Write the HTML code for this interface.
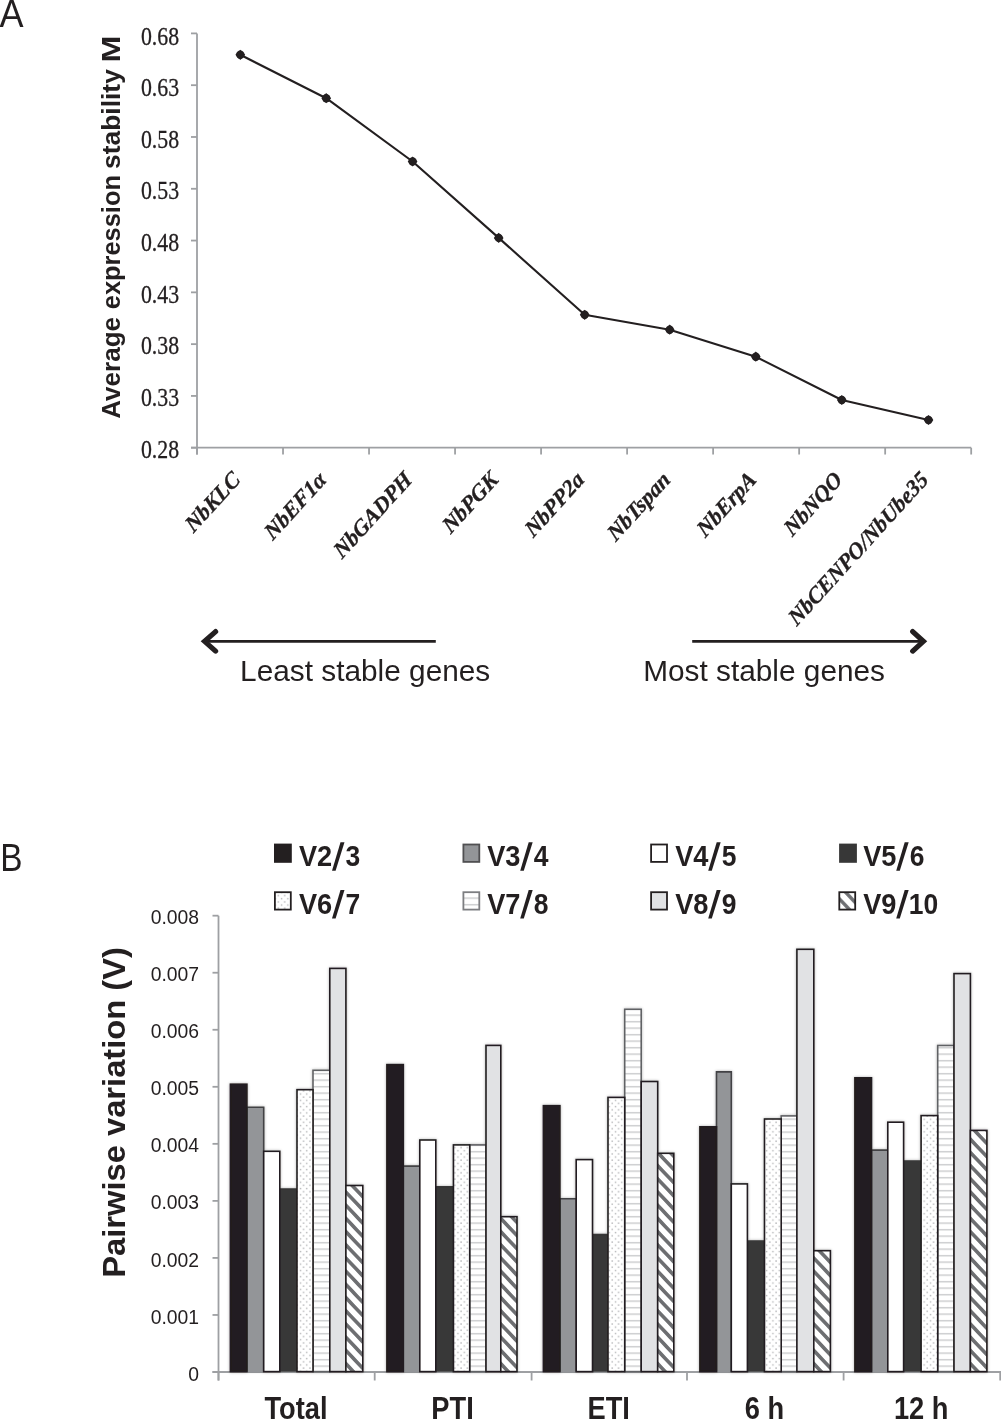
<!DOCTYPE html>
<html><head><meta charset="utf-8"><style>
html,body{margin:0;padding:0;background:#fff;}
body{width:1001px;height:1419px;overflow:hidden;font-family:"Liberation Sans",sans-serif;}
svg{display:block;will-change:transform;}
</style></head><body>
<svg width="1001" height="1419" viewBox="0 0 1001 1419">
<defs>
<pattern id="dots" patternUnits="userSpaceOnUse" width="6.3" height="6.3" x="0.2" y="0"><rect x="0.3" y="0.3" width="1.4" height="1.4" fill="#b3b4b6"/><rect x="3.45" y="3.45" width="1.4" height="1.4" fill="#b3b4b6"/></pattern>
<pattern id="hstripe" patternUnits="userSpaceOnUse" width="8" height="6.5" x="0" y="0.4"><rect x="0" y="0" width="8" height="1.5" fill="#cdced0"/></pattern>
<pattern id="hatchL" patternUnits="userSpaceOnUse" width="9.086" height="9.086" patternTransform="translate(838.40,897.90) rotate(46.5)"><rect x="0" y="0" width="9.086" height="1.70" fill="#6d6e71"/><rect x="0" y="7.386" width="9.086" height="1.70" fill="#6d6e71"/></pattern>
<pattern id="hatch0" patternUnits="userSpaceOnUse" width="9.086" height="9.086" patternTransform="translate(345.90,1363.70) rotate(46.5)"><rect x="0" y="0" width="9.086" height="1.80" fill="#6d6e71"/><rect x="0" y="7.286" width="9.086" height="1.80" fill="#6d6e71"/></pattern>
<pattern id="hatch1" patternUnits="userSpaceOnUse" width="9.086" height="9.086" patternTransform="translate(500.80,1363.70) rotate(46.5)"><rect x="0" y="0" width="9.086" height="1.80" fill="#6d6e71"/><rect x="0" y="7.286" width="9.086" height="1.80" fill="#6d6e71"/></pattern>
<pattern id="hatch2" patternUnits="userSpaceOnUse" width="9.086" height="9.086" patternTransform="translate(657.70,1363.70) rotate(46.5)"><rect x="0" y="0" width="9.086" height="1.80" fill="#6d6e71"/><rect x="0" y="7.286" width="9.086" height="1.80" fill="#6d6e71"/></pattern>
<pattern id="hatch3" patternUnits="userSpaceOnUse" width="9.086" height="9.086" patternTransform="translate(813.80,1363.70) rotate(46.5)"><rect x="0" y="0" width="9.086" height="1.80" fill="#6d6e71"/><rect x="0" y="7.286" width="9.086" height="1.80" fill="#6d6e71"/></pattern>
<pattern id="hatch4" patternUnits="userSpaceOnUse" width="9.086" height="9.086" patternTransform="translate(970.40,1363.70) rotate(46.5)"><rect x="0" y="0" width="9.086" height="1.80" fill="#6d6e71"/><rect x="0" y="7.286" width="9.086" height="1.80" fill="#6d6e71"/></pattern>
<pattern id="hatch" patternUnits="userSpaceOnUse" width="9" height="9" patternTransform="rotate(45)"><rect x="0" y="0" width="9" height="3.6" fill="#6d6e71"/></pattern>
<filter id="halo" x="-5%" y="-5%" width="110%" height="110%"><feGaussianBlur in="SourceAlpha" stdDeviation="1.6"/><feComponentTransfer><feFuncA type="linear" slope="0.3"/></feComponentTransfer><feMerge><feMergeNode/><feMergeNode in="SourceGraphic"/></feMerge></filter>
</defs>
<rect width="1001" height="1419" fill="#fff"/>
<text transform="translate(-0.4,27.4) scale(0.93,1)" font-family="Liberation Sans" font-size="38.8" fill="#231f20">A</text>
<line x1="191" y1="33.40" x2="197" y2="33.40" stroke="#9ea0a3" stroke-width="1.8"/>
<text transform="translate(179.1,44.50) scale(0.87,1)" text-anchor="end" font-family="Liberation Serif" font-size="25.1" fill="#231f20" stroke="#231f20" stroke-width="0.3">0.68</text>
<line x1="191" y1="85.19" x2="197" y2="85.19" stroke="#9ea0a3" stroke-width="1.8"/>
<text transform="translate(179.1,96.14) scale(0.87,1)" text-anchor="end" font-family="Liberation Serif" font-size="25.1" fill="#231f20" stroke="#231f20" stroke-width="0.3">0.63</text>
<line x1="191" y1="136.98" x2="197" y2="136.98" stroke="#9ea0a3" stroke-width="1.8"/>
<text transform="translate(179.1,147.78) scale(0.87,1)" text-anchor="end" font-family="Liberation Serif" font-size="25.1" fill="#231f20" stroke="#231f20" stroke-width="0.3">0.58</text>
<line x1="191" y1="188.77" x2="197" y2="188.77" stroke="#9ea0a3" stroke-width="1.8"/>
<text transform="translate(179.1,199.42) scale(0.87,1)" text-anchor="end" font-family="Liberation Serif" font-size="25.1" fill="#231f20" stroke="#231f20" stroke-width="0.3">0.53</text>
<line x1="191" y1="240.56" x2="197" y2="240.56" stroke="#9ea0a3" stroke-width="1.8"/>
<text transform="translate(179.1,251.06) scale(0.87,1)" text-anchor="end" font-family="Liberation Serif" font-size="25.1" fill="#231f20" stroke="#231f20" stroke-width="0.3">0.48</text>
<line x1="191" y1="292.35" x2="197" y2="292.35" stroke="#9ea0a3" stroke-width="1.8"/>
<text transform="translate(179.1,302.70) scale(0.87,1)" text-anchor="end" font-family="Liberation Serif" font-size="25.1" fill="#231f20" stroke="#231f20" stroke-width="0.3">0.43</text>
<line x1="191" y1="344.14" x2="197" y2="344.14" stroke="#9ea0a3" stroke-width="1.8"/>
<text transform="translate(179.1,354.34) scale(0.87,1)" text-anchor="end" font-family="Liberation Serif" font-size="25.1" fill="#231f20" stroke="#231f20" stroke-width="0.3">0.38</text>
<line x1="191" y1="395.93" x2="197" y2="395.93" stroke="#9ea0a3" stroke-width="1.8"/>
<text transform="translate(179.1,405.98) scale(0.87,1)" text-anchor="end" font-family="Liberation Serif" font-size="25.1" fill="#231f20" stroke="#231f20" stroke-width="0.3">0.33</text>
<line x1="191" y1="447.72" x2="197" y2="447.72" stroke="#9ea0a3" stroke-width="1.8"/>
<text transform="translate(179.1,457.62) scale(0.87,1)" text-anchor="end" font-family="Liberation Serif" font-size="25.1" fill="#231f20" stroke="#231f20" stroke-width="0.3">0.28</text>
<line x1="197" y1="33.40" x2="197" y2="454.52" stroke="#9ea0a3" stroke-width="1.8"/>
<line x1="191" y1="447.72" x2="971.2" y2="447.72" stroke="#9ea0a3" stroke-width="1.8"/>
<line x1="197.00" y1="447.72" x2="197.00" y2="454.52" stroke="#9ea0a3" stroke-width="1.8"/>
<line x1="283.02" y1="447.72" x2="283.02" y2="454.52" stroke="#9ea0a3" stroke-width="1.8"/>
<line x1="369.04" y1="447.72" x2="369.04" y2="454.52" stroke="#9ea0a3" stroke-width="1.8"/>
<line x1="455.06" y1="447.72" x2="455.06" y2="454.52" stroke="#9ea0a3" stroke-width="1.8"/>
<line x1="541.08" y1="447.72" x2="541.08" y2="454.52" stroke="#9ea0a3" stroke-width="1.8"/>
<line x1="627.10" y1="447.72" x2="627.10" y2="454.52" stroke="#9ea0a3" stroke-width="1.8"/>
<line x1="713.12" y1="447.72" x2="713.12" y2="454.52" stroke="#9ea0a3" stroke-width="1.8"/>
<line x1="799.14" y1="447.72" x2="799.14" y2="454.52" stroke="#9ea0a3" stroke-width="1.8"/>
<line x1="885.16" y1="447.72" x2="885.16" y2="454.52" stroke="#9ea0a3" stroke-width="1.8"/>
<line x1="971.18" y1="447.72" x2="971.18" y2="454.52" stroke="#9ea0a3" stroke-width="1.8"/>
<text transform="translate(120.4,418.78) rotate(-90) scale(0.998,1)" font-family="Liberation Sans" font-weight="bold" font-size="26.1" fill="#231f20">Average</text>
<text transform="translate(120.4,309.22) rotate(-90) scale(0.974,1)" font-family="Liberation Sans" font-weight="bold" font-size="26.1" fill="#231f20">expression</text>
<text transform="translate(120.4,169.06) rotate(-90) scale(1.013,1)" font-family="Liberation Sans" font-weight="bold" font-size="26.1" fill="#231f20">stability</text>
<text transform="translate(120.4,62.56) rotate(-90) scale(1.237,1)" font-family="Liberation Sans" font-weight="bold" font-size="26.1" fill="#231f20">M</text>
<polyline points="240.3,54.8 326.2,98.2 412.6,161.5 498.7,237.9 584.7,314.8 669.7,329.7 755.8,356.7 841.8,400 928.5,420" fill="none" stroke="#231f20" stroke-width="2.1" stroke-linejoin="round"/>
<circle cx="240.3" cy="54.8" r="4.2" fill="#231f20"/>
<path d="M240.3,49.699999999999996 L245.20000000000002,54.8 L240.3,59.9 L235.4,54.8 Z" fill="#231f20"/>
<circle cx="326.2" cy="98.2" r="4.2" fill="#231f20"/>
<path d="M326.2,93.10000000000001 L331.09999999999997,98.2 L326.2,103.3 L321.3,98.2 Z" fill="#231f20"/>
<circle cx="412.6" cy="161.5" r="4.2" fill="#231f20"/>
<path d="M412.6,156.4 L417.5,161.5 L412.6,166.6 L407.70000000000005,161.5 Z" fill="#231f20"/>
<circle cx="498.7" cy="237.9" r="4.2" fill="#231f20"/>
<path d="M498.7,232.8 L503.59999999999997,237.9 L498.7,243.0 L493.8,237.9 Z" fill="#231f20"/>
<circle cx="584.7" cy="314.8" r="4.2" fill="#231f20"/>
<path d="M584.7,309.7 L589.6,314.8 L584.7,319.90000000000003 L579.8000000000001,314.8 Z" fill="#231f20"/>
<circle cx="669.7" cy="329.7" r="4.2" fill="#231f20"/>
<path d="M669.7,324.59999999999997 L674.6,329.7 L669.7,334.8 L664.8000000000001,329.7 Z" fill="#231f20"/>
<circle cx="755.8" cy="356.7" r="4.2" fill="#231f20"/>
<path d="M755.8,351.59999999999997 L760.6999999999999,356.7 L755.8,361.8 L750.9,356.7 Z" fill="#231f20"/>
<circle cx="841.8" cy="400" r="4.2" fill="#231f20"/>
<path d="M841.8,394.9 L846.6999999999999,400 L841.8,405.1 L836.9,400 Z" fill="#231f20"/>
<circle cx="928.5" cy="420" r="4.2" fill="#231f20"/>
<path d="M928.5,414.9 L933.4,420 L928.5,425.1 L923.6,420 Z" fill="#231f20"/>
<text id="lab0" transform="translate(241.30,481) scale(0.91,1) rotate(-45)" text-anchor="end" font-family="Liberation Serif" font-weight="bold" font-style="italic" font-size="23.5" fill="#231f20" stroke="#231f20" stroke-width="0.35">NbKLC</text>
<text id="lab1" transform="translate(327.32,481) scale(0.91,1) rotate(-45)" text-anchor="end" font-family="Liberation Serif" font-weight="bold" font-style="italic" font-size="23.5" fill="#231f20" stroke="#231f20" stroke-width="0.35">NbEF1α</text>
<text id="lab2" transform="translate(413.34,481) scale(0.91,1) rotate(-45)" text-anchor="end" font-family="Liberation Serif" font-weight="bold" font-style="italic" font-size="23.5" fill="#231f20" stroke="#231f20" stroke-width="0.35">NbGADPH</text>
<text id="lab3" transform="translate(499.36,481) scale(0.91,1) rotate(-45)" text-anchor="end" font-family="Liberation Serif" font-weight="bold" font-style="italic" font-size="23.5" fill="#231f20" stroke="#231f20" stroke-width="0.35">NbPGK</text>
<text id="lab4" transform="translate(585.38,481) scale(0.91,1) rotate(-45)" text-anchor="end" font-family="Liberation Serif" font-weight="bold" font-style="italic" font-size="23.5" fill="#231f20" stroke="#231f20" stroke-width="0.35">NbPP2a</text>
<text id="lab5" transform="translate(671.40,481) scale(0.91,1) rotate(-45)" text-anchor="end" font-family="Liberation Serif" font-weight="bold" font-style="italic" font-size="23.5" fill="#231f20" stroke="#231f20" stroke-width="0.35">NbTspan</text>
<text id="lab6" transform="translate(757.42,481) scale(0.91,1) rotate(-45)" text-anchor="end" font-family="Liberation Serif" font-weight="bold" font-style="italic" font-size="23.5" fill="#231f20" stroke="#231f20" stroke-width="0.35">NbErpA</text>
<text id="lab7" transform="translate(843.44,481) scale(0.91,1) rotate(-45)" text-anchor="end" font-family="Liberation Serif" font-weight="bold" font-style="italic" font-size="23.5" fill="#231f20" stroke="#231f20" stroke-width="0.35">NbNQO</text>
<text id="lab8" transform="translate(929.46,481) scale(0.91,1) rotate(-45)" text-anchor="end" font-family="Liberation Serif" font-weight="bold" font-style="italic" font-size="23.5" fill="#231f20" stroke="#231f20" stroke-width="0.35">NbCENPO/NbUbe35</text>
<line x1="203" y1="641.45" x2="435.8" y2="641.45" stroke="#231f20" stroke-width="2.7"/>
<path d="M215.6,631.6 L204.6,641.35 L215.6,651.1" fill="none" stroke="#231f20" stroke-width="5.2" stroke-linecap="round" stroke-linejoin="miter" stroke-miterlimit="10"/>
<line x1="692.2" y1="641.45" x2="925" y2="641.45" stroke="#231f20" stroke-width="2.7"/>
<path d="M912.7,631.6 L923.4,641.35 L912.7,651.1" fill="none" stroke="#231f20" stroke-width="5.2" stroke-linecap="round" stroke-linejoin="miter" stroke-miterlimit="10"/>
<text x="240.1" y="681.1" font-family="Liberation Sans" font-size="29.8" fill="#231f20">Least stable genes</text>
<text x="643.2" y="681.1" font-family="Liberation Sans" font-size="29.8" fill="#231f20">Most stable genes</text>
<text transform="translate(0.3,870.8) scale(0.86,1)" font-family="Liberation Sans" font-size="38.8" fill="#231f20">B</text>
<rect x="274" y="843.6" width="17.8" height="19.2" fill="#231f20"/>
<text transform="translate(299.2,866.0) scale(0.895,1)" x="-0.3" font-family="Liberation Sans" font-weight="bold" font-size="30.4" fill="#231f20">V2</text>
<polygon points="340.5,842.2 344.5,842.2 335.6,870.7 332.0,870.7" fill="#231f20"/>
<text transform="translate(346.0,866.0) scale(0.87,1)" x="-0.6" font-family="Liberation Sans" font-weight="bold" font-size="30.4" fill="#231f20">3</text>
<rect x="463.4" y="844.5" width="15.9" height="17.4" fill="#939598" stroke="#505052" stroke-width="1.8"/>
<text transform="translate(487.4,866.0) scale(0.895,1)" x="-0.3" font-family="Liberation Sans" font-weight="bold" font-size="30.4" fill="#231f20">V3</text>
<polygon points="528.7,842.2 532.7,842.2 523.8,870.7 520.2,870.7" fill="#231f20"/>
<text transform="translate(534.2,866.0) scale(0.87,1)" x="-0.6" font-family="Liberation Sans" font-weight="bold" font-size="30.4" fill="#231f20">4</text>
<rect x="651.1" y="844.5" width="15.9" height="17.4" fill="#fff" stroke="#231f20" stroke-width="1.8"/>
<text transform="translate(675.4,866.0) scale(0.895,1)" x="-0.3" font-family="Liberation Sans" font-weight="bold" font-size="30.4" fill="#231f20">V4</text>
<polygon points="716.7,842.2 720.7,842.2 711.8,870.7 708.2,870.7" fill="#231f20"/>
<text transform="translate(722.2,866.0) scale(0.87,1)" x="-0.6" font-family="Liberation Sans" font-weight="bold" font-size="30.4" fill="#231f20">5</text>
<rect x="839.1" y="843.6" width="17.8" height="19.2" fill="#373737"/>
<text transform="translate(863.4,866.0) scale(0.895,1)" x="-0.3" font-family="Liberation Sans" font-weight="bold" font-size="30.4" fill="#231f20">V5</text>
<polygon points="904.7,842.2 908.7,842.2 899.8,870.7 896.2,870.7" fill="#231f20"/>
<text transform="translate(910.2,866.0) scale(0.87,1)" x="-0.6" font-family="Liberation Sans" font-weight="bold" font-size="30.4" fill="#231f20">6</text>
<rect x="274.9" y="892.1999999999999" width="15.9" height="17.4" fill="#fff"/>
<rect x="274.9" y="892.2" width="15.9" height="17.4" fill="url(#dots)" stroke="#231f20" stroke-width="1.8"/>
<text transform="translate(299.2,913.7) scale(0.895,1)" x="-0.3" font-family="Liberation Sans" font-weight="bold" font-size="30.4" fill="#231f20">V6</text>
<polygon points="340.5,889.9 344.5,889.9 335.6,918.4 332.0,918.4" fill="#231f20"/>
<text transform="translate(346.0,913.7) scale(0.87,1)" x="-0.6" font-family="Liberation Sans" font-weight="bold" font-size="30.4" fill="#231f20">7</text>
<rect x="463.4" y="892.1999999999999" width="15.9" height="17.4" fill="#fff"/>
<rect x="463.4" y="892.2" width="15.9" height="17.4" fill="url(#hstripe)" stroke="#7d7e81" stroke-width="1.8"/>
<text transform="translate(487.4,913.7) scale(0.895,1)" x="-0.3" font-family="Liberation Sans" font-weight="bold" font-size="30.4" fill="#231f20">V7</text>
<polygon points="528.7,889.9 532.7,889.9 523.8,918.4 520.2,918.4" fill="#231f20"/>
<text transform="translate(534.2,913.7) scale(0.87,1)" x="-0.6" font-family="Liberation Sans" font-weight="bold" font-size="30.4" fill="#231f20">8</text>
<rect x="651.1" y="892.2" width="15.9" height="17.4" fill="#e1e2e4" stroke="#231f20" stroke-width="1.8"/>
<text transform="translate(675.4,913.7) scale(0.895,1)" x="-0.3" font-family="Liberation Sans" font-weight="bold" font-size="30.4" fill="#231f20">V8</text>
<polygon points="716.7,889.9 720.7,889.9 711.8,918.4 708.2,918.4" fill="#231f20"/>
<text transform="translate(722.2,913.7) scale(0.87,1)" x="-0.6" font-family="Liberation Sans" font-weight="bold" font-size="30.4" fill="#231f20">9</text>
<rect x="839.3" y="892.1999999999999" width="15.9" height="17.4" fill="#fff"/>
<rect x="839.3" y="892.2" width="15.9" height="17.4" fill="url(#hatchL)" stroke="#231f20" stroke-width="1.8"/>
<text transform="translate(863.4,913.7) scale(0.895,1)" x="-0.3" font-family="Liberation Sans" font-weight="bold" font-size="30.4" fill="#231f20">V9</text>
<polygon points="904.7,889.9 908.7,889.9 899.8,918.4 896.2,918.4" fill="#231f20"/>
<text transform="translate(910.2,913.7) scale(0.87,1)" x="-1.6" font-family="Liberation Sans" font-weight="bold" font-size="30.4" fill="#231f20">10</text>
<line x1="212.5" y1="1372.00" x2="218.5" y2="1372.00" stroke="#9ea0a3" stroke-width="1.8"/>
<text transform="translate(199.1,1380.60) scale(0.93,1)" text-anchor="end" font-family="Liberation Sans" font-size="20.8" fill="#231f20">0</text>
<line x1="212.5" y1="1314.96" x2="218.5" y2="1314.96" stroke="#9ea0a3" stroke-width="1.8"/>
<text transform="translate(199.1,1323.56) scale(0.93,1)" text-anchor="end" font-family="Liberation Sans" font-size="20.8" fill="#231f20">0.001</text>
<line x1="212.5" y1="1257.92" x2="218.5" y2="1257.92" stroke="#9ea0a3" stroke-width="1.8"/>
<text transform="translate(199.1,1266.52) scale(0.93,1)" text-anchor="end" font-family="Liberation Sans" font-size="20.8" fill="#231f20">0.002</text>
<line x1="212.5" y1="1200.88" x2="218.5" y2="1200.88" stroke="#9ea0a3" stroke-width="1.8"/>
<text transform="translate(199.1,1209.48) scale(0.93,1)" text-anchor="end" font-family="Liberation Sans" font-size="20.8" fill="#231f20">0.003</text>
<line x1="212.5" y1="1143.84" x2="218.5" y2="1143.84" stroke="#9ea0a3" stroke-width="1.8"/>
<text transform="translate(199.1,1152.44) scale(0.93,1)" text-anchor="end" font-family="Liberation Sans" font-size="20.8" fill="#231f20">0.004</text>
<line x1="212.5" y1="1086.80" x2="218.5" y2="1086.80" stroke="#9ea0a3" stroke-width="1.8"/>
<text transform="translate(199.1,1095.40) scale(0.93,1)" text-anchor="end" font-family="Liberation Sans" font-size="20.8" fill="#231f20">0.005</text>
<line x1="212.5" y1="1029.76" x2="218.5" y2="1029.76" stroke="#9ea0a3" stroke-width="1.8"/>
<text transform="translate(199.1,1038.36) scale(0.93,1)" text-anchor="end" font-family="Liberation Sans" font-size="20.8" fill="#231f20">0.006</text>
<line x1="212.5" y1="972.72" x2="218.5" y2="972.72" stroke="#9ea0a3" stroke-width="1.8"/>
<text transform="translate(199.1,981.32) scale(0.93,1)" text-anchor="end" font-family="Liberation Sans" font-size="20.8" fill="#231f20">0.007</text>
<line x1="212.5" y1="915.68" x2="218.5" y2="915.68" stroke="#9ea0a3" stroke-width="1.8"/>
<text transform="translate(199.1,924.28) scale(0.93,1)" text-anchor="end" font-family="Liberation Sans" font-size="20.8" fill="#231f20">0.008</text>
<line x1="218.5" y1="915.68" x2="218.5" y2="1380.50" stroke="#9ea0a3" stroke-width="1.8"/>
<line x1="212.5" y1="1372.0" x2="1001" y2="1372.0" stroke="#9ea0a3" stroke-width="1.8"/>
<line x1="218.5" y1="1372.0" x2="218.5" y2="1380.5" stroke="#9ea0a3" stroke-width="1.8"/>
<line x1="374.7" y1="1372.0" x2="374.7" y2="1380.5" stroke="#9ea0a3" stroke-width="1.8"/>
<line x1="531.6" y1="1372.0" x2="531.6" y2="1380.5" stroke="#9ea0a3" stroke-width="1.8"/>
<line x1="687.0" y1="1372.0" x2="687.0" y2="1380.5" stroke="#9ea0a3" stroke-width="1.8"/>
<line x1="843.6" y1="1372.0" x2="843.6" y2="1380.5" stroke="#9ea0a3" stroke-width="1.8"/>
<line x1="1000.2" y1="1372.0" x2="1000.2" y2="1380.5" stroke="#9ea0a3" stroke-width="1.8"/>
<text id="ytb" transform="translate(124.6,1277.7) rotate(-90) scale(1,0.956)" font-family="Liberation Sans" font-weight="bold" font-size="32.7" fill="#231f20">Pairwise variation (V)</text>
<g filter="url(#halo)">
<rect x="279.80" y="1189.00" width="17.20" height="182.60" fill="#373737"/>
<path d="M279.80,1371.60 V1189.00 H297.00 V1371.60" fill="none" stroke="#373737" stroke-width="1.6"/>
<rect x="246.90" y="1107.30" width="16.80" height="264.30" fill="#939598"/>
<path d="M246.90,1371.60 V1107.30 H263.70 V1371.60" fill="none" stroke="#434345" stroke-width="1.6"/>
<rect x="313.00" y="1070.30" width="16.80" height="301.30" fill="#fff"/>
<rect x="313.00" y="1070.30" width="16.80" height="301.30" fill="url(#hstripe)" stroke="#616265" stroke-width="1.6"/>
<rect x="263.70" y="1151.30" width="16.10" height="220.30" fill="#fff" stroke="#231f20" stroke-width="1.6"/>
<rect x="297.00" y="1089.70" width="16.00" height="281.90" fill="#fff"/>
<rect x="297.00" y="1089.70" width="16.00" height="281.90" fill="url(#dots)" stroke="#231f20" stroke-width="1.6"/>
<rect x="329.80" y="968.40" width="16.10" height="403.20" fill="#e1e2e4" stroke="#231f20" stroke-width="1.6"/>
<rect x="345.90" y="1185.50" width="16.90" height="186.10" fill="#fff"/>
<rect x="345.90" y="1185.50" width="16.90" height="186.10" fill="url(#hatch0)" stroke="#231f20" stroke-width="1.6"/>
<rect x="230.40" y="1084.20" width="16.50" height="287.40" fill="#231f20" stroke="#231f20" stroke-width="1.6"/>
<rect x="435.80" y="1186.70" width="17.65" height="184.90" fill="#373737"/>
<path d="M435.80,1371.60 V1186.70 H453.45 V1371.60" fill="none" stroke="#373737" stroke-width="1.6"/>
<rect x="403.30" y="1166.10" width="16.50" height="205.50" fill="#939598"/>
<path d="M403.30,1371.60 V1166.10 H419.80 V1371.60" fill="none" stroke="#434345" stroke-width="1.6"/>
<rect x="469.70" y="1144.90" width="16.30" height="226.70" fill="#fff"/>
<rect x="469.70" y="1144.90" width="16.30" height="226.70" fill="url(#hstripe)" stroke="#616265" stroke-width="1.6"/>
<rect x="419.80" y="1140.00" width="16.00" height="231.60" fill="#fff" stroke="#231f20" stroke-width="1.6"/>
<rect x="453.45" y="1144.90" width="16.25" height="226.70" fill="#fff"/>
<rect x="453.45" y="1144.90" width="16.25" height="226.70" fill="url(#dots)" stroke="#231f20" stroke-width="1.6"/>
<rect x="486.00" y="1045.40" width="14.80" height="326.20" fill="#e1e2e4" stroke="#231f20" stroke-width="1.6"/>
<rect x="500.80" y="1216.70" width="16.20" height="154.90" fill="#fff"/>
<rect x="500.80" y="1216.70" width="16.20" height="154.90" fill="url(#hatch1)" stroke="#231f20" stroke-width="1.6"/>
<rect x="386.90" y="1064.60" width="16.40" height="307.00" fill="#231f20" stroke="#231f20" stroke-width="1.6"/>
<rect x="592.50" y="1234.50" width="15.50" height="137.10" fill="#373737"/>
<path d="M592.50,1371.60 V1234.50 H608.00 V1371.60" fill="none" stroke="#373737" stroke-width="1.6"/>
<rect x="559.90" y="1198.70" width="16.30" height="172.90" fill="#939598"/>
<path d="M559.90,1371.60 V1198.70 H576.20 V1371.60" fill="none" stroke="#434345" stroke-width="1.6"/>
<rect x="624.70" y="1009.30" width="16.50" height="362.30" fill="#fff"/>
<rect x="624.70" y="1009.30" width="16.50" height="362.30" fill="url(#hstripe)" stroke="#616265" stroke-width="1.6"/>
<rect x="576.20" y="1159.60" width="16.30" height="212.00" fill="#fff" stroke="#231f20" stroke-width="1.6"/>
<rect x="608.00" y="1097.40" width="16.70" height="274.20" fill="#fff"/>
<rect x="608.00" y="1097.40" width="16.70" height="274.20" fill="url(#dots)" stroke="#231f20" stroke-width="1.6"/>
<rect x="641.20" y="1081.50" width="16.50" height="290.10" fill="#e1e2e4" stroke="#231f20" stroke-width="1.6"/>
<rect x="657.70" y="1153.30" width="16.10" height="218.30" fill="#fff"/>
<rect x="657.70" y="1153.30" width="16.10" height="218.30" fill="url(#hatch2)" stroke="#231f20" stroke-width="1.6"/>
<rect x="543.40" y="1105.70" width="16.50" height="265.90" fill="#231f20" stroke="#231f20" stroke-width="1.6"/>
<rect x="747.40" y="1241.10" width="17.10" height="130.50" fill="#373737"/>
<path d="M747.40,1371.60 V1241.10 H764.50 V1371.60" fill="none" stroke="#373737" stroke-width="1.6"/>
<rect x="716.50" y="1071.90" width="14.80" height="299.70" fill="#939598"/>
<path d="M716.50,1371.60 V1071.90 H731.30 V1371.60" fill="none" stroke="#434345" stroke-width="1.6"/>
<rect x="781.20" y="1115.90" width="15.70" height="255.70" fill="#fff"/>
<rect x="781.20" y="1115.90" width="15.70" height="255.70" fill="url(#hstripe)" stroke="#616265" stroke-width="1.6"/>
<rect x="731.30" y="1183.90" width="16.10" height="187.70" fill="#fff" stroke="#231f20" stroke-width="1.6"/>
<rect x="764.50" y="1119.00" width="16.70" height="252.60" fill="#fff"/>
<rect x="764.50" y="1119.00" width="16.70" height="252.60" fill="url(#dots)" stroke="#231f20" stroke-width="1.6"/>
<rect x="796.90" y="949.30" width="16.90" height="422.30" fill="#e1e2e4" stroke="#231f20" stroke-width="1.6"/>
<rect x="813.80" y="1250.70" width="16.60" height="120.90" fill="#fff"/>
<rect x="813.80" y="1250.70" width="16.60" height="120.90" fill="url(#hatch3)" stroke="#231f20" stroke-width="1.6"/>
<rect x="699.90" y="1126.80" width="16.60" height="244.80" fill="#231f20" stroke="#231f20" stroke-width="1.6"/>
<rect x="903.60" y="1161.10" width="17.50" height="210.50" fill="#373737"/>
<path d="M903.60,1371.60 V1161.10 H921.10 V1371.60" fill="none" stroke="#373737" stroke-width="1.6"/>
<rect x="871.50" y="1150.10" width="16.30" height="221.50" fill="#939598"/>
<path d="M871.50,1371.60 V1150.10 H887.80 V1371.60" fill="none" stroke="#434345" stroke-width="1.6"/>
<rect x="937.70" y="1045.50" width="16.30" height="326.10" fill="#fff"/>
<rect x="937.70" y="1045.50" width="16.30" height="326.10" fill="url(#hstripe)" stroke="#616265" stroke-width="1.6"/>
<rect x="887.80" y="1122.20" width="15.80" height="249.40" fill="#fff" stroke="#231f20" stroke-width="1.6"/>
<rect x="921.10" y="1115.60" width="16.60" height="256.00" fill="#fff"/>
<rect x="921.10" y="1115.60" width="16.60" height="256.00" fill="url(#dots)" stroke="#231f20" stroke-width="1.6"/>
<rect x="954.00" y="973.60" width="16.40" height="398.00" fill="#e1e2e4" stroke="#231f20" stroke-width="1.6"/>
<rect x="970.40" y="1130.40" width="16.50" height="241.20" fill="#fff"/>
<rect x="970.40" y="1130.40" width="16.50" height="241.20" fill="url(#hatch4)" stroke="#231f20" stroke-width="1.6"/>
<rect x="854.90" y="1077.80" width="16.60" height="293.80" fill="#231f20" stroke="#231f20" stroke-width="1.6"/>
</g>
<text transform="translate(296.0,1418.8) scale(0.874,1)" text-anchor="middle" font-family="Liberation Sans" font-weight="bold" font-size="31.2" fill="#231f20">Total</text>
<text transform="translate(452.5,1418.8) scale(0.874,1)" text-anchor="middle" font-family="Liberation Sans" font-weight="bold" font-size="31.2" fill="#231f20">PTI</text>
<text transform="translate(608.7,1418.8) scale(0.874,1)" text-anchor="middle" font-family="Liberation Sans" font-weight="bold" font-size="31.2" fill="#231f20">ETI</text>
<text transform="translate(764.5,1418.8) scale(0.874,1)" text-anchor="middle" font-family="Liberation Sans" font-weight="bold" font-size="31.2" fill="#231f20">6 h</text>
<text transform="translate(921.2,1418.8) scale(0.874,1)" text-anchor="middle" font-family="Liberation Sans" font-weight="bold" font-size="31.2" fill="#231f20">12 h</text>
</svg>
</body></html>
